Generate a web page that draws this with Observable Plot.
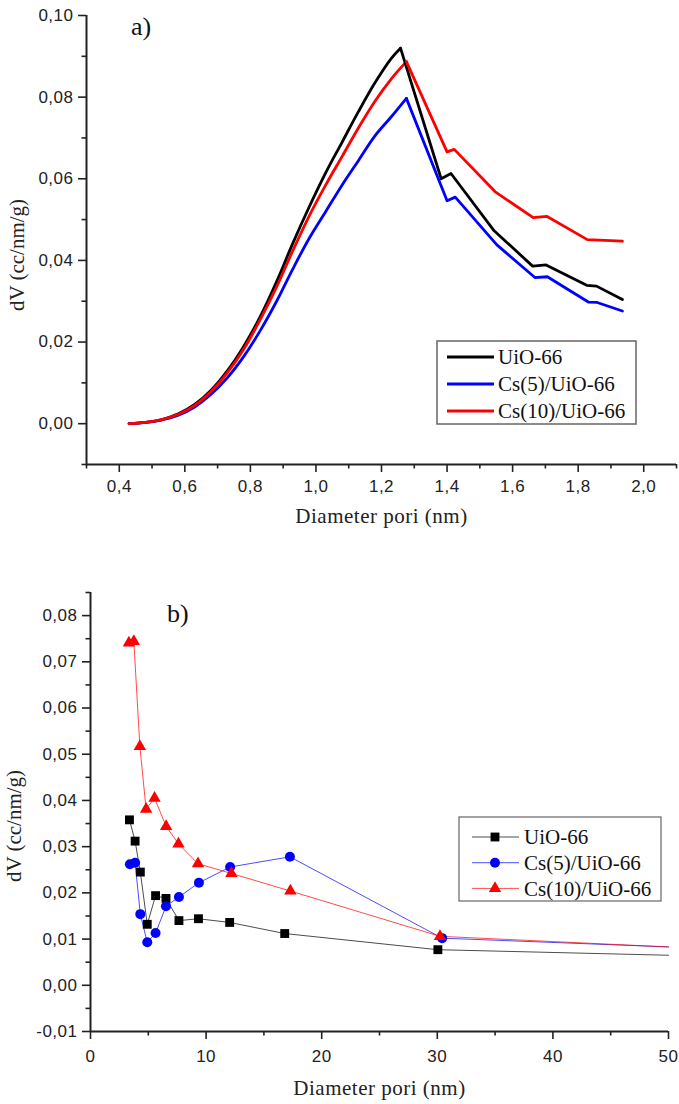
<!DOCTYPE html>
<html><head><meta charset="utf-8">
<script src="https://cdn.jsdelivr.net/npm/d3@7"></script>
<script src="https://cdn.jsdelivr.net/npm/@observablehq/plot@0.6"></script>
<style>
body{margin:0;background:#fff;}
#wrap{position:relative;width:679px;height:1104px;overflow:hidden;background:#fff;}
#wrap > svg{display:block;}
#overlay{position:absolute;left:0;top:0;pointer-events:none;}
</style></head><body><div id="wrap"></div>
<script>
// ---------- shared ----------
const seriesNames = ["UiO-66", "Cs(5)/UiO-66", "Cs(10)/UiO-66"];
const seriesColors = ["#000000", "#0000ff", "#ff0000"];
const bSymbols = ["square", "circle", "triangle"];

// ---------- panel a ----------
const aUioX = [0.43,0.48,0.53,0.58,0.63,0.68,0.73,0.78,0.83,0.88,0.93,0.98,1.03,1.08,1.13,1.18,1.23,1.258,1.382,1.412,1.542,1.661,1.702,1.826,1.856,1.935];
const aUioY = [0,0.0003,0.0010,0.0024,0.0047,0.0082,0.0130,0.0190,0.0262,0.0348,0.0443,0.0532,0.0615,0.0690,0.0765,0.0835,0.0895,0.0920,0.0600,0.0613,0.0474,0.0386,0.0389,0.0339,0.0337,0.0304];
const aCs5X = [0.43,0.48,0.53,0.58,0.63,0.68,0.73,0.78,0.83,0.88,0.93,0.98,1.03,1.08,1.13,1.18,1.23,1.276,1.400,1.425,1.552,1.668,1.706,1.831,1.858,1.935];
const aCs5Y = [0,0.0003,0.0009,0.0021,0.0041,0.0072,0.0113,0.0165,0.0228,0.0300,0.0380,0.0455,0.0520,0.0585,0.0645,0.0705,0.0752,0.0797,0.0546,0.0555,0.0438,0.0358,0.0360,0.0298,0.0297,0.0276];
const aCs10X = [0.43,0.48,0.53,0.58,0.63,0.68,0.73,0.78,0.83,0.88,0.93,0.98,1.03,1.08,1.13,1.18,1.23,1.276,1.400,1.422,1.547,1.663,1.704,1.828,1.935];
const aCs10Y = [0,0.0003,0.0010,0.0023,0.0045,0.0079,0.0125,0.0183,0.0255,0.0335,0.0425,0.0510,0.0585,0.0655,0.0725,0.0790,0.0845,0.0887,0.0666,0.0672,0.0568,0.0505,0.0508,0.0451,0.0447];
const aXDomain = [0.3, 2.1];
const aYDomain = [-0.01, 0.10];
const aXTicks = [0.4,0.6,0.8,1.0,1.2,1.4,1.6,1.8,2.0];
const aXMinor = [0.3,0.5,0.7,0.9,1.1,1.3,1.5,1.7,1.9,2.1];
const aYTicks = [0,0.02,0.04,0.06,0.08,0.10];
const aYMinor = [-0.01,0.01,0.03,0.05,0.07,0.09];

// ---------- panel b ----------
const bUioX = [3.37,3.86,4.31,4.91,5.63,6.53,7.65,9.34,12.04,16.80,30.05,50];
const bUioY = [0.0358,0.0312,0.0245,0.0132,0.0194,0.0188,0.0140,0.0144,0.0136,0.0112,0.0077,0.0065];
const bCs5X = [3.41,3.86,4.31,4.91,5.63,6.53,7.65,9.38,12.08,17.25,30.42,50];
const bCs5Y = [0.0262,0.0265,0.0154,0.0093,0.0113,0.0171,0.0191,0.0222,0.0256,0.0278,0.0102,0.0083];
const bCs10X = [3.32,3.75,4.27,4.81,5.54,6.54,7.61,9.30,12.19,17.29,30.23,50];
const bCs10Y = [0.0741,0.0744,0.0517,0.0381,0.0405,0.0344,0.0306,0.0263,0.0242,0.0204,0.0106,0.0083];
const bXDomain = [0, 50];
const bYDomain = [-0.01, 0.085];
const bXTicks = [0,10,20,30,40,50];
const bXMinor = [5,15,25,35,45];
const bYTicks = [-0.01,0,0.01,0.02,0.03,0.04,0.05,0.06,0.07,0.08];
const bYMinor = [-0.005,0.005,0.015,0.025,0.035,0.045,0.055,0.065,0.075,0.085];

const xLabel = "Diameter pori (nm)";
const yLabel = "dV (cc/nm/g)";

// ---------- build tables ----------
function table(xs, ys, name) { return xs.map((x, i) => ({x, y: ys[i], s: name})); }
const aSeries = [
  table(aUioX, aUioY, seriesNames[0]),
  table(aCs5X, aCs5Y, seriesNames[1]),
  table(aCs10X, aCs10Y, seriesNames[2])
];
// split each curve at its maximum: smooth rising branch, straight-segment falling branch
const aRise = [], aFall = [];
aSeries.forEach(rows => {
  const pk = d3.maxIndex(rows, d => d.y);
  aRise.push(...rows.slice(0, pk + 1));
  aFall.push(...rows.slice(pk));
});
const bSeries = [
  table(bUioX, bUioY, seriesNames[0]),
  table(bCs5X, bCs5Y, seriesNames[1]),
  table(bCs10X, bCs10Y, seriesNames[2])
];
const dataB = bSeries.flat();

const comma = n => v => v.toFixed(n).replace(".", ",");
const serif = "'Liberation Serif', 'Times New Roman', serif";
const sans = "'Liberation Sans', Arial, sans-serif";
const axisColor = "#222";

function axes(xT, xM, yT, yM, xf, yf, xDom, yDom, xPad) {
  return [
    Plot.axisX(xT, {anchor: "bottom", tickSize: 8, tickPadding: xPad, tickFormat: xf, label: null, stroke: axisColor, strokeWidth: 1.6, fill: axisColor, fontSize: 17}),
    Plot.axisX(xM, {anchor: "bottom", tickSize: 4.5, tickFormat: () => "", label: null, stroke: axisColor, strokeWidth: 1.6}),
    Plot.axisY(yT, {anchor: "left", tickSize: 8, tickPadding: 5, tickFormat: yf, label: null, stroke: axisColor, strokeWidth: 1.6, fill: axisColor, fontSize: 17}),
    Plot.axisY(yM, {anchor: "left", tickSize: 4.5, tickFormat: () => "", label: null, stroke: axisColor, strokeWidth: 1.6}),
    Plot.ruleX([xDom[0]], {stroke: axisColor, strokeWidth: 2}),
    Plot.ruleY([yDom[0]], {stroke: axisColor, strokeWidth: 2})
  ];
}

const colorScale = {domain: seriesNames, range: seriesColors};

const plotA = Plot.plot({
  width: 679, height: 545,
  marginLeft: 86, marginRight: 3, marginTop: 15, marginBottom: 81,
  x: {domain: aXDomain, label: null},
  y: {domain: aYDomain, label: null},
  color: colorScale,
  style: {fontFamily: sans, fontSize: "17px", background: "white", letterSpacing: "0.5px"},
  marks: [
    ...axes(aXTicks, aXMinor, aYTicks, aYMinor, comma(1), comma(2), aXDomain, aYDomain, 7),
    Plot.line(aRise, {x: "x", y: "y", z: "s", stroke: "s", strokeWidth: 2.8, curve: "catmull-rom"}),
    Plot.line(aFall, {x: "x", y: "y", z: "s", stroke: "s", strokeWidth: 2.8}),
    Plot.text([xLabel], {frameAnchor: "bottom", dy: 58, textAnchor: "middle", fontFamily: serif, fontSize: 21, fill: "#222"})
  ]
});

const plotB = Plot.plot({
  width: 679, height: 559,
  marginLeft: 90, marginRight: 11, marginTop: 47, marginBottom: 73,
  x: {domain: bXDomain, label: null},
  y: {domain: bYDomain, label: null},
  color: colorScale,
  style: {fontFamily: sans, fontSize: "17px", background: "white", letterSpacing: "0.5px"},
  marks: [
    ...axes(bXTicks, bXMinor, bYTicks, bYMinor, comma(0), comma(2), bXDomain, bYDomain, 10),
    Plot.line(dataB, {x: "x", y: "y", z: "s", stroke: "s", strokeWidth: 1, strokeOpacity: 0.7}),
    Plot.dot(bSeries[0].filter(d => d.x < bXDomain[1]), {x: "x", y: "y", symbol: bSymbols[0], r: 5, fill: seriesColors[0]}),
    Plot.dot(bSeries[1].filter(d => d.x < bXDomain[1]), {x: "x", y: "y", symbol: bSymbols[1], r: 5, fill: seriesColors[1]}),
    Plot.dot(bSeries[2].filter(d => d.x < bXDomain[1]), {x: "x", y: "y", symbol: bSymbols[2], r: 4.6, fill: seriesColors[2]}),
    Plot.text([xLabel], {frameAnchor: "bottom", dy: 63, textAnchor: "middle", fontFamily: serif, fontSize: 21, fill: "#222"})
  ]
});

const wrap = document.getElementById("wrap");
wrap.appendChild(plotA);
wrap.appendChild(plotB);

// ---------- overlay: panel letters, y titles and legends ----------
const ov = d3.select(wrap).append("svg").attr("id", "overlay").attr("width", 679).attr("height", 1104);
ov.append("text").text("a)").attr("x", 131).attr("y", 35).attr("font-family", serif).attr("font-size", 26).attr("fill", "#111");
ov.append("text").text("b)").attr("x", 167).attr("y", 622).attr("font-family", serif).attr("font-size", 26).attr("fill", "#111");
[[17, 255], [14, 826]].forEach(([cx, cy]) => {
  ov.append("text").text(yLabel)
    .attr("transform", `translate(${cx},${cy}) rotate(-90)`)
    .attr("text-anchor", "middle").attr("dy", "0.35em")
    .attr("font-family", serif).attr("font-size", 21).attr("fill", "#222");
});

// legend a
const la = ov.append("g");
la.append("rect").attr("x", 437).attr("y", 341).attr("width", 199).attr("height", 83).attr("fill", "white").attr("stroke", "#666").attr("stroke-width", 1.5);
seriesNames.forEach((n, i) => {
  const y = 357 + i * 27;
  la.append("line").attr("x1", 447).attr("x2", 494).attr("y1", y).attr("y2", y).attr("stroke", seriesColors[i]).attr("stroke-width", 3);
  la.append("text").text(n).attr("x", 498).attr("y", y).attr("dy", "0.35em").attr("font-family", serif).attr("font-size", 21).attr("fill", "#111");
});

// legend b
const lb = ov.append("g");
lb.append("rect").attr("x", 459).attr("y", 817).attr("width", 202).attr("height", 84).attr("fill", "white").attr("stroke", "#666").attr("stroke-width", 1.2);
const symMap = {square: d3.symbolSquare, circle: d3.symbolCircle, triangle: d3.symbolTriangle};
const rMap = [5, 5, 4.6];
seriesNames.forEach((n, i) => {
  const y = 837 + i * 25.7;
  lb.append("line").attr("x1", 472).attr("x2", 519).attr("y1", y).attr("y2", y).attr("stroke", seriesColors[i]).attr("stroke-opacity", 0.7).attr("stroke-width", 1);
  lb.append("path").attr("d", d3.symbol(symMap[bSymbols[i]], Math.PI * rMap[i] * rMap[i])()).attr("transform", `translate(495,${y})`).attr("fill", seriesColors[i]);
  lb.append("text").text(n).attr("x", 524).attr("y", y).attr("dy", "0.35em").attr("font-family", serif).attr("font-size", 21).attr("fill", "#111");
});
</script>
</body></html>
